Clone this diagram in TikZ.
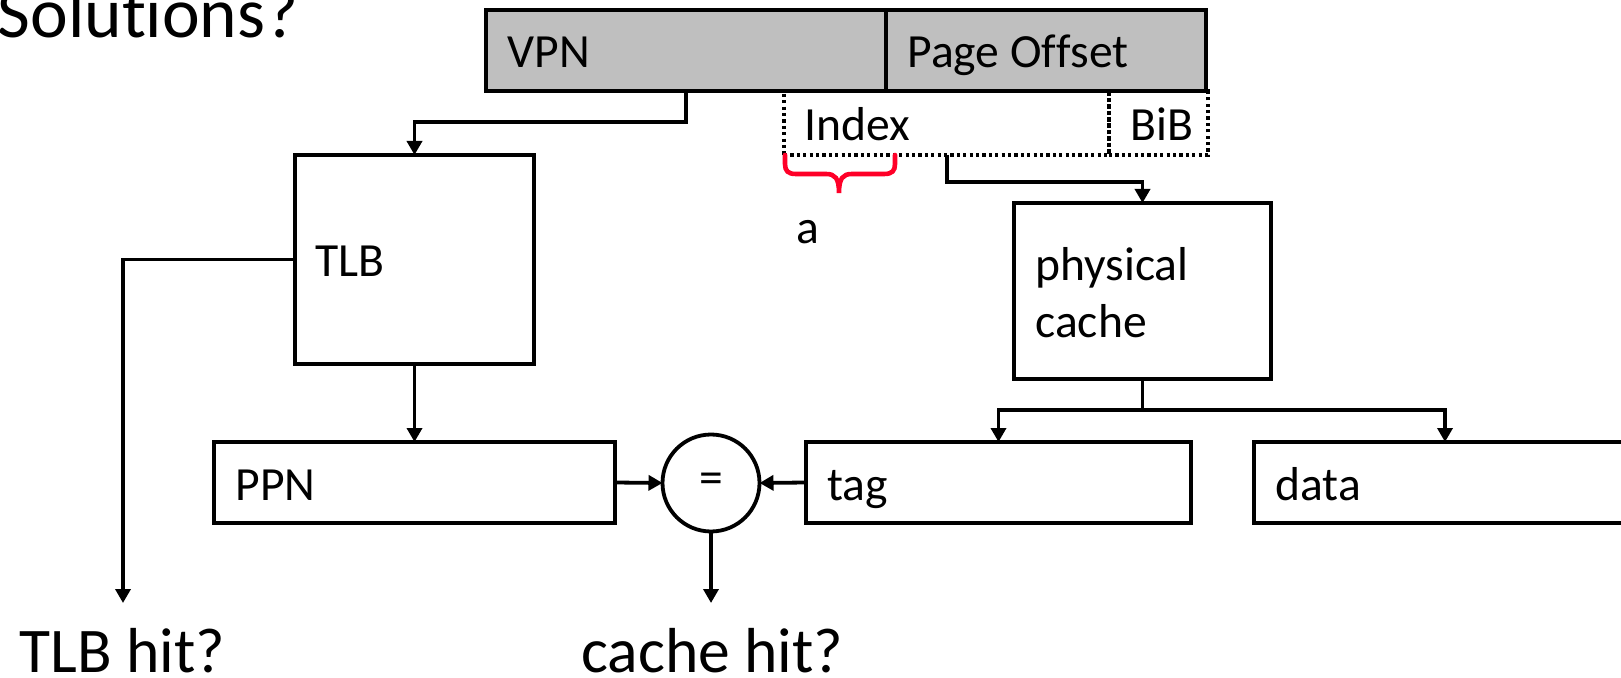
\documentclass[tikz,border=0pt]{standalone}
\usepackage{fontspec}
\setmainfont[Ligatures=NoCommon]{Carlito}
\usetikzlibrary{arrows.meta}
\definecolor{barfill}{RGB}{191,191,191}
\definecolor{bracered}{RGB}{255,0,40}
\begin{document}
\begin{tikzpicture}[x=0.5pt,y=-0.5pt,
  box/.style={draw, line width=1.9pt, inner sep=0pt, outer sep=0pt, anchor=north west},
  dotbox/.style={draw, line width=1.6pt, dash pattern=on 1.6pt off 1.6pt, inner sep=0pt, outer sep=0pt, anchor=north west},
  lbl/.style={inner sep=0pt, anchor=base west, font=\fontsize{23.8}{28}\selectfont},
  big/.style={inner sep=0pt, anchor=base west, text depth=0pt, font=\fontsize{31.8}{38}\selectfont},
  conn/.style={line width=1.9pt, -{Triangle[width=7.5pt,length=7pt]}},
  wire/.style={line width=1.9pt}]

\useasboundingbox (0,0) rectangle (1621,678);
\clip (0,0) rectangle (1621,678);

% title (cut off at the left)
\node[big, anchor=base east, font=\fontsize{35.7}{42}\selectfont] (title) at (299,38) {Solut\kern0pt ions?};

% address bar
\node[box, fill=barfill, minimum width=200pt, minimum height=40.5pt] (vpn) at (486,10) {};
\node[box, fill=barfill, minimum width=160pt, minimum height=40.5pt] (off) at (886,10) {};
\node[lbl] (tvpn) at (507,68) {VPN};
\node[lbl] (toff) at (907,68) {Page Of\kern0pt f\kern0pt set};

% index / block-in-block
\node[dotbox, minimum width=162.5pt, minimum height=32pt] (idx) at (784,91) {};
\node[dotbox, minimum width=49.5pt, minimum height=32pt] (bib) at (1109,91) {};
\node[lbl] (tidx) at (804,141) {Index};
\node[lbl] (tbib) at (1130,141) {BiB};

% red brace
\draw[bracered, line width=2.3pt, line cap=round]
  (785,155) -- (785,164) .. controls (785,171) and (788,174) .. (796,174)
  -- (826,174) .. controls (835,174) and (839,178) .. (839,193)
  .. controls (839,178) and (843,174) .. (852,174)
  -- (884,174) .. controls (892,174) and (895,171) .. (895,164) -- (895,155);
\node[lbl, anchor=base] (ta) at (808,244) {a};

% TLB
\node[box, minimum width=119.5pt, minimum height=104.5pt] (tlb) at (295,155) {};
\node[lbl] (ttlb) at (315,277) {TLB};

% physical cache
\node[box, minimum width=128.5pt, minimum height=88pt] (pcache) at (1014,203) {};
\node[lbl] (tphys) at (1035,281) {physical};
\node[lbl] (tcache) at (1035,338) {cache};

% bottom row
\node[box, minimum width=200.5pt, minimum height=40.5pt] (ppn) at (214,442) {};
\node[lbl] (tppn) at (235,500) {PPN};
\node[box, minimum width=192.5pt, minimum height=40.5pt] (tag) at (806,442) {};
\node[lbl] (ttag) at (827,500) {tag};
\node[box, minimum width=191pt, minimum height=40.5pt] (data) at (1254,442) {};
\node[lbl] (tdata) at (1275,500) {data};
\node[draw, circle, line width=1.9pt, minimum size=48.5pt, inner sep=0pt, outer sep=0pt,
      font=\fontsize{23.8}{28}\selectfont] (eq) at (711,483) {=};

% outputs
\node[big] (tlbhit) at (19,672) {TLB hit?};
\node[big] (cachehit) at (581,672) {cache hit?};

% connectors
\coordinate (vpnout) at (686,91);
\coordinate (vpnbend) at (686,122);
\draw[conn] (vpnout) -- (vpnbend) -| (tlb.north);
\draw[conn] (tlb.south) -- (ppn.north -| tlb.south);
\coordinate (tlbhitend) at (123,603);
\draw[conn] (tlb.west) -| (tlbhitend);
\draw[conn] (ppn.east) -- (eq.west);
\draw[conn] (tag.west) -- (eq.east);
\coordinate (eqend) at (711,603);
\draw[conn] (eq.south) -- (eqend);
\coordinate (idxout) at (947,155);
\coordinate (idxbend) at (947,182);
\draw[conn] (idxout) -- (idxbend) -| (pcache.north);
\coordinate (split) at (1142.5,410);
\draw[wire] (pcache.south) -- (split);
\draw[conn] (split) -| (tag.north);
\draw[conn] (split) -| (data.north);
\end{tikzpicture}
\end{document}
